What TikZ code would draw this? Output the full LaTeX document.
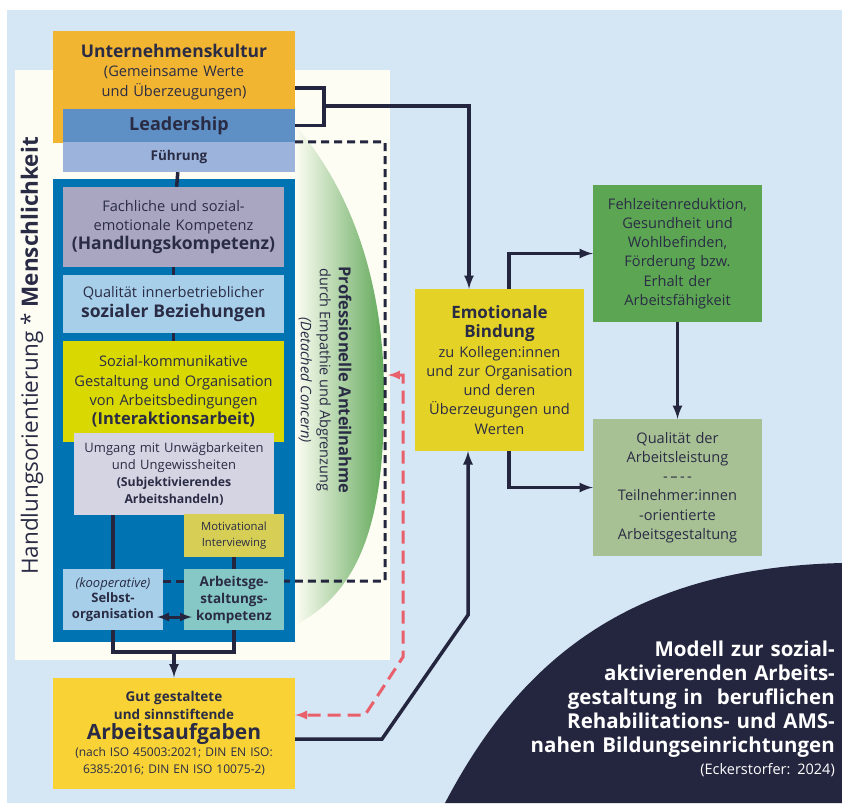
\documentclass[tikz,border=0pt]{standalone}
\usepackage{fontspec}
\setmainfont{Open Sans}
\usetikzlibrary{calc}
\frenchspacing

\definecolor{bg}{HTML}{D5E6F4}
\definecolor{cream}{HTML}{FDFDF3}
\definecolor{ink}{HTML}{2A2C45}
\definecolor{navy}{HTML}{24263F}
\definecolor{pink}{HTML}{E8606B}
\definecolor{kultur}{HTML}{F2B531}
\definecolor{leader}{HTML}{5E8FC5}
\definecolor{fuehr}{HTML}{9CB4DB}
\definecolor{block}{HTML}{0074B3}
\definecolor{fach}{HTML}{A8A6C1}
\definecolor{sozbez}{HTML}{A7CFE9}
\definecolor{interakt}{HTML}{D9D800}
\definecolor{umgang}{HTML}{D5D4E3}
\definecolor{motiv}{HTML}{D6CE55}
\definecolor{gestkomp}{HTML}{86C8C5}
\definecolor{aufgaben}{HTML}{F9D235}
\definecolor{emo}{HTML}{E4D226}
\definecolor{fehl}{HTML}{5CA553}
\definecolor{qual}{HTML}{A8C194}
\definecolor{anteil}{HTML}{5FA757}

\newcommand{\txtreg}{\fontsize{14.6}{19.3}\selectfont}
\newcommand{\txthead}{\fontsize{17.5}{20}\selectfont\bfseries}
\newcommand{\txtsmall}{\fontsize{13}{16.7}\selectfont}
\newcommand{\txttitle}{\fontsize{20.5}{24}\selectfont\bfseries}

\tikzstyle{box}=[shape=rectangle,inner sep=0pt,align=center,text=ink,font=\txtreg]
\tikzstyle{l}=[draw=navy,line width=3.5pt,-latex]
\tikzstyle{ln}=[draw=navy,line width=3.5pt]
\tikzstyle{dl}=[draw=navy,line width=3pt,dash pattern=on 8pt off 5pt]
\tikzstyle{pl}=[draw=pink,line width=3pt,dash pattern=on 13pt off 7pt,latex-latex]

\begin{document}
\begin{tikzpicture}[x=1pt,y=-1pt]
\useasboundingbox (0,0) rectangle (842,803);

% background
\fill[white] (0,0) rectangle (842,803);
\fill[bg] (7,10) rectangle (842,803);
\fill[cream] (15,70) rectangle (390,660);
\shade[left color=cream,right color=anteil] (295,125) .. controls (360,200) and (385,300) .. (384,400)
  .. controls (384,510) and (365,590) .. (295,625) -- cycle;
\fill[navy] (445,803) .. controls (520,660) and (630,568) .. (842,563) -- (842,803) -- cycle;

% left column
\node[box,fill=kultur,minimum width=242pt,minimum height=82pt,text width=232pt] (kultur) at (174,72)
  {{\fontsize{17.5}{20}\selectfont\bfseries Unternehmenskultur}\\(Gemeinsame Werte\\und Überzeugungen)};
\fill[kultur] (kultur.south west) rectangle ++(10,30);
\node[box,fill=leader,minimum width=232pt,minimum height=33pt,font=\fontsize{18}{20}\selectfont\bfseries] (leadership) at (179,125.5) {Leadership};
\node[box,fill=fuehr,minimum width=232pt,minimum height=30pt,font=\fontsize{13.5}{16}\selectfont\bfseries] (fuehrung) at (179,157) {Führung};

\node[box,fill=block,minimum width=242pt,minimum height=463pt] (block) at (174,410.5) {};

\node[box,fill=fach,minimum width=221pt,minimum height=80pt,text width=215pt] (fach) at (173.5,227)
  {Fachliche und sozial-\\emotionale Kompetenz\\{\txthead (Handlungskompetenz)}};
\node[box,fill=sozbez,minimum width=221pt,minimum height=58pt,text width=215pt] (sozbez) at (173.5,304)
  {Qualität innerbetrieblicher\\{\txthead sozialer Beziehungen}};
\node[box,fill=interakt,minimum width=221pt,minimum height=101pt,text width=215pt] (interakt) at (173.5,391.5)
  {Sozial-kommunikative\\Gestaltung und Organisation\\von Arbeitsbedingungen\\{\fontsize{16.5}{20}\selectfont\bfseries (Interaktionsarbeit)}};
\node[box,fill=umgang,minimum width=200pt,minimum height=82pt,text width=196pt,font=\txtsmall] (umgang) at (174,474)
  {Umgang mit Unwägbarkeiten\\und Ungewissheiten\\{\fontsize{12.3}{16}\selectfont\bfseries (Subjektivierendes}\\{\fontsize{12.3}{16}\selectfont\bfseries Arbeitshandeln)}};
\node[box,fill=motiv,minimum width=100pt,minimum height=43pt,text width=98pt,font=\fontsize{11.3}{16}\selectfont] (motiv) at (234,535.5)
  {Motivational\\Interviewing};
\node[box,fill=sozbez,minimum width=100pt,minimum height=61pt,text width=100pt,font=\fontsize{13}{15.5}\selectfont] (selbst) at (113,599.5)
  {{\itshape (kooperative)}\\{\bfseries Selbst-}\\{\bfseries organisation}};
\node[box,fill=gestkomp,minimum width=100pt,minimum height=61pt,text width=100pt,font=\fontsize{13.5}{17}\selectfont\bfseries] (gestkomp) at (234,599.5)
  {Arbeitsge-\\staltungs-\\kompetenz};

\node[box,fill=aufgaben,minimum width=242pt,minimum height=111pt,text width=240pt,font=\fontsize{12}{17}\selectfont] (aufgaben) at (174,733)
  {{\fontsize{13.5}{17}\selectfont\bfseries Gut gestaltete}\\[1pt]{\fontsize{13.5}{17}\selectfont\bfseries und sinnstiftende}\\[3pt]
   {\fontsize{21}{20}\selectfont\bfseries Arbeitsaufgaben}\\(nach ISO 45003:2021; DIN EN ISO:\\6385:2016; DIN EN ISO 10075-2)};

% side labels
\node[text=ink,rotate=90,font=\fontsize{22.5}{26}\selectfont] (haltung) at (32,356)
  {Handlungsorientierung * \textbf{Menschlichkeit}};
\node[text=ink,rotate=-90,align=center,font=\fontsize{14.5}{19}\selectfont] (anteilnahme) at (325,380)
  {{\fontsize{16.5}{20}\selectfont\bfseries Professionelle Anteilnahme}\\durch Empathie und Abgrenzung\\{\itshape (Detached Concern)}};

% right column
\node[box,fill=emo,minimum width=169pt,minimum height=162pt,text width=165pt] (emo) at (499.5,370)
  {{\fontsize{17}{20}\selectfont\bfseries Emotionale}\\{\fontsize{17}{20}\selectfont\bfseries Bindung}\\zu Kollegen:innen\\und zur Organisation\\und deren\\Überzeugungen und\\Werten};
\node[box,fill=fehl,minimum width=169pt,minimum height=137pt,text width=165pt] (fehl) at (677.5,253.5)
  {Fehlzeitenreduktion,\\Gesundheit und\\Wohlbefinden,\\Förderung bzw.\\Erhalt der\\Arbeitsfähigkeit};
\node[box,fill=qual,minimum width=169pt,minimum height=137pt,text width=165pt] (qual) at (677.5,487.5)
  {Qualität der\\Arbeitsleistung\\-\,–\,-\,-\\Teilnehmer:innen\\-orientierte\\Arbeitsgestaltung};

\node[text=white,anchor=north east,inner sep=0pt,text width=340pt,align=right,font=\txttitle] (titel) at (835,641)
  {Modell zur sozial-\\aktivierenden Arbeits-\\gestaltung in~ beruflichen\\Rehabilitations- und AMS-\\nahen Bildungseinrichtungen\\[-2pt]
   {\fontsize{14.5}{18}\selectfont\mdseries (Eckerstorfer: 2024)}};

% coordinates
\coordinate (kb) at (324,106);
\coordinate (dk) at (385,142);
\coordinate (dk2) at (385,581);
\coordinate (join) at (174,652);
\coordinate (a1) at (382,739);
\coordinate (a2) at (468,615);
\coordinate (p1) at (388,375);
\coordinate (p2) at (403,375);
\coordinate (p3) at (403,657);
\coordinate (p4) at (365,715);

%paths
\path [ln] (fuehrung) -- (fach);
\path [ln] (fach) -- (sozbez);
\path [ln] (sozbez) -- (interakt);
\path [ln] (selbst.north |- umgang.south) -- (selbst.north);
\path [ln] (motiv) -- (gestkomp);
\path [ln] (selbst.south) -- (selbst.south |- join) -| (gestkomp.south);
\path [l] (join) -- (aufgaben);
\path [draw=navy,line width=3pt,latex-latex] ([xshift=-6pt,yshift=-17.5pt]selbst.east) -- ([xshift=8pt,yshift=-17.5pt]gestkomp.west);

\path [ln,line join=miter] ([yshift=-16pt]kultur.east) -| (kb) |- (leadership.east);
\path [l] (kb) -| ([xshift=-30.5pt]emo.north);

\path [dl] (fuehrung.north east) -- (dk) -- (dk2) -- (gestkomp.east |- dk2);
\path [dl] (gestkomp.west |- dk2) -- (selbst.east |- dk2);

\path [pl] (p1) -- (p2) -- (p3) -- (p4) -- (aufgaben.east |- p4);

\path [l] (aufgaben.east |- a1) -- (a1) -- (a2) -- (a2 |- emo.south);
\path [l] ([xshift=9.5pt]emo.north) |- (fehl.west);
\path [l] ([xshift=9.5pt]emo.south) |- (qual.west);
\path [l] (fehl) -- (qual);

\end{tikzpicture}
\end{document}
